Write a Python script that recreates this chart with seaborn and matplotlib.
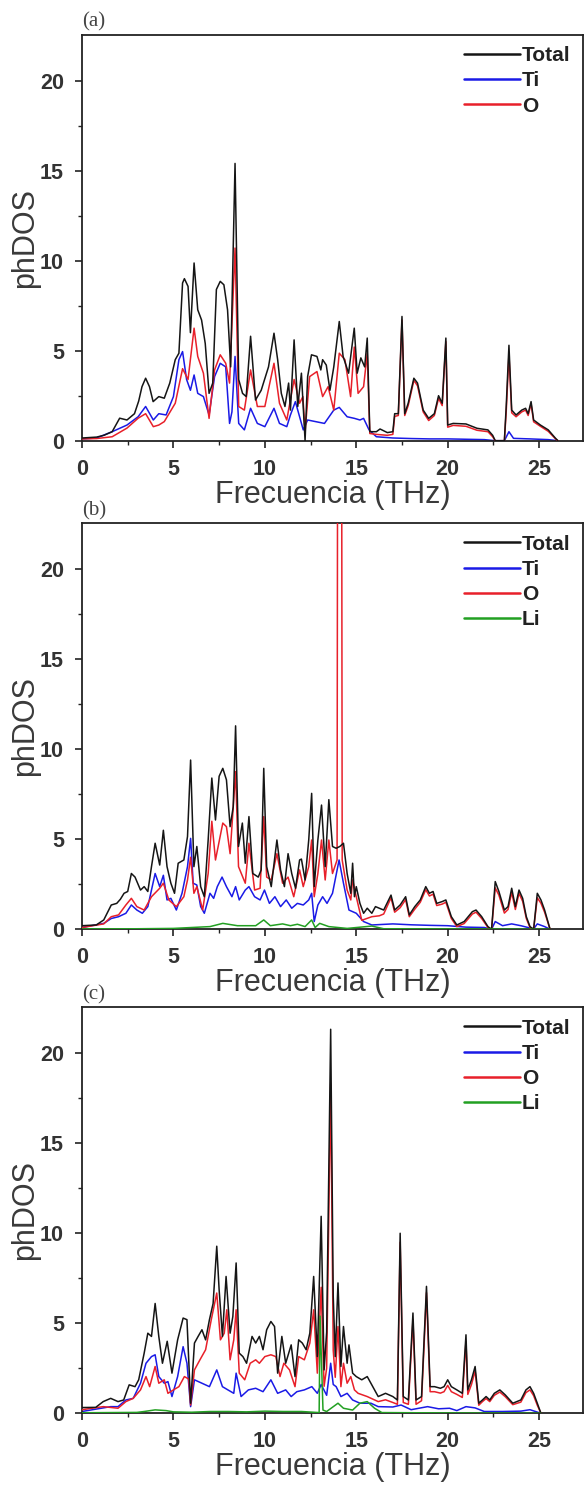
import matplotlib
matplotlib.use("Agg")
import matplotlib.pyplot as plt
import seaborn as sns
import pandas as pd

# ---------------- data (frequency THz, phDOS) ----------------
A_TOT = [(0,0.15),(0.8,0.2),(1.2,0.3),(1.65,0.5),(2.06,1.25),(2.46,1.15),(2.87,1.5),(3.1,2.2),(3.28,3.0),(3.48,3.47),(3.69,3.0),(3.89,2.17),(4.2,2.45),(4.5,2.36),(4.8,3.2),(5.1,4.5),(5.3,4.86),(5.5,8.76),(5.6,9.0),(5.8,8.57),(5.93,6.0),(6.13,9.87),(6.33,7.27),(6.54,6.7),(6.74,5.4),(6.95,2.63),(7.15,3.2),(7.35,8.4),(7.56,8.85),(7.76,8.66),(7.96,7.27),(8.13,4.1),(8.37,15.4),(8.57,3.4),(8.78,2.63),(8.98,2.45),(9.22,5.8),(9.49,2.26),(9.8,2.8),(10.2,4.1),(10.5,5.97),(10.7,4.5),(10.9,2.63),(11.1,1.9),(11.3,3.2),(11.4,1.7),(11.6,5.6),(11.8,1.9),(12.0,3.75),(12.2,0.0),(12.34,3.56),(12.55,4.77),(12.85,4.68),(13.06,3.93),(13.16,4.5),(13.36,4.2),(13.56,2.8),(13.77,4.1),(14.07,6.62),(14.28,4.68),(14.58,3.75),(14.89,6.25),(15.05,3.75),(15.25,4.6),(15.46,4.1),(15.6,5.7),(15.74,0.5),(16.1,0.5),(16.3,0.65),(16.7,0.45),(17.0,0.5),(17.1,1.5),(17.3,1.5),(17.5,6.9),(17.65,1.5),(17.84,2.08),(18.15,3.47),(18.35,3.2),(18.66,1.7),(18.96,1.24),(19.27,1.5),(19.5,2.5),(19.7,2.08),(19.9,5.7),(20.0,0.87),(20.3,0.96),(21.0,0.93),(21.6,0.69),(22.2,0.6),(22.46,0.3),(22.6,0.0),(23.1,0.0),(23.2,1.9),(23.35,5.3),(23.5,1.7),(23.74,1.43),(24.05,1.7),(24.26,1.8),(24.4,1.5),(24.56,2.17),(24.7,1.15),(25.07,0.87),(25.5,0.6),(25.9,0.13),(26.03,0.0)]
A_TI = [(0,0.1),(0.8,0.15),(1.65,0.5),(2.46,0.87),(3.07,1.33),(3.48,1.9),(3.9,1.15),(4.2,1.5),(4.6,1.43),(5.0,2.45),(5.3,4.5),(5.5,4.95),(5.72,3.4),(5.93,2.8),(6.13,3.65),(6.33,2.63),(6.64,2.45),(6.95,1.43),(7.25,3.56),(7.56,4.3),(7.86,4.1),(8.07,0.96),(8.2,1.6),(8.37,4.68),(8.57,0.96),(8.88,0.6),(9.22,1.8),(9.59,0.96),(10.0,0.78),(10.5,1.8),(10.8,0.96),(11.2,0.78),(11.4,1.43),(11.67,2.17),(11.9,1.33),(12.1,0.6),(12.34,1.15),(13.26,0.96),(13.77,1.7),(14.07,1.85),(14.5,1.33),(14.9,1.24),(15.2,1.15),(15.4,1.24),(15.7,0.6),(16.1,0.22),(17.0,0.15),(18.0,0.12),(19.0,0.1),(20.0,0.1),(21.0,0.08),(22.0,0.06),(22.6,0.0),(23.1,0.0),(23.35,0.5),(23.6,0.13),(24.5,0.1),(25.5,0.06),(26.0,0.0)]
A_O = [(0,0.1),(0.8,0.12),(1.65,0.22),(2.46,0.7),(3.07,1.25),(3.48,1.5),(3.9,0.78),(4.2,0.87),(4.5,1.06),(5.1,2.08),(5.5,4.0),(5.8,3.4),(6.13,6.25),(6.33,4.68),(6.64,3.75),(6.95,1.24),(7.25,3.93),(7.56,4.77),(7.86,4.3),(8.07,3.2),(8.37,10.7),(8.57,1.9),(8.88,1.7),(9.22,3.93),(9.59,1.9),(10.0,1.9),(10.5,4.3),(10.8,2.08),(11.2,1.15),(11.6,3.4),(11.9,2.08),(12.08,2.45),(12.2,0.5),(12.45,3.56),(12.85,3.84),(13.16,2.45),(13.46,3.0),(13.77,1.7),(14.07,4.86),(14.38,4.5),(14.69,2.45),(14.89,5.2),(15.1,2.63),(15.4,3.0),(15.6,4.86),(15.74,0.4),(16.1,0.35),(16.7,0.3),(17.0,0.35),(17.1,1.35),(17.3,1.4),(17.5,6.7),(17.65,1.4),(17.84,1.95),(18.15,3.35),(18.35,3.05),(18.66,1.6),(18.96,1.12),(19.27,1.4),(19.5,2.35),(19.7,1.95),(19.9,5.5),(20.0,0.75),(20.3,0.85),(21.0,0.8),(21.6,0.58),(22.2,0.5),(22.46,0.22),(22.6,0.0),(23.1,0.0),(23.2,1.6),(23.35,4.8),(23.5,1.55),(23.74,1.33),(24.05,1.6),(24.26,1.7),(24.4,1.4),(24.56,2.05),(24.7,1.05),(25.07,0.8),(25.5,0.52),(25.9,0.1),(26.03,0.0)]

B_TOT = [(0,0.2),(0.78,0.24),(1.19,0.52),(1.6,1.35),(1.9,1.44),(2.1,1.67),(2.3,2.0),(2.5,2.1),(2.7,3.1),(2.9,2.9),(3.2,2.18),(3.4,2.37),(3.6,2.1),(3.8,3.48),(4.0,4.78),(4.25,3.57),(4.45,5.5),(4.65,3.48),(4.86,2.56),(5.06,2.0),(5.26,3.67),(5.57,3.85),(5.77,5.15),(5.94,9.4),(6.12,3.48),(6.28,4.6),(6.49,2.37),(6.69,1.81),(6.9,4.96),(7.1,8.4),(7.3,6.07),(7.5,8.5),(7.7,8.94),(7.9,8.3),(8.1,5.7),(8.27,6.8),(8.4,11.3),(8.56,4.6),(8.77,5.9),(8.93,3.67),(9.13,6.26),(9.34,3.1),(9.64,2.9),(9.8,3.3),(9.94,8.94),(10.1,3.48),(10.35,2.37),(10.66,4.96),(10.86,3.3),(11.07,2.37),(11.27,4.2),(11.47,3.1),(11.68,2.28),(11.9,3.85),(12.0,3.9),(12.2,2.74),(12.4,4.96),(12.56,7.55),(12.7,2.37),(12.9,4.96),(13.1,6.9),(13.3,3.48),(13.5,7.2),(13.7,4.6),(13.9,4.5),(14.1,4.6),(14.3,4.78),(14.5,3.1),(14.7,2.0),(14.8,3.67),(14.9,1.81),(15.0,2.37),(15.2,1.44),(15.4,0.89),(15.6,1.17),(15.85,0.89),(16.05,1.26),(16.26,1.17),(16.5,1.07),(16.9,1.9),(17.1,1.07),(17.4,1.35),(17.7,1.81),(17.9,0.8),(18.2,1.26),(18.5,1.63),(18.8,2.37),(19.0,2.0),(19.2,2.1),(19.4,1.44),(19.7,1.54),(19.9,1.63),(20.2,0.7),(20.5,0.24),(20.9,0.43),(21.35,0.98),(21.55,1.07),(21.86,0.7),(22.2,0.15),(22.4,0.0),(22.6,2.65),(22.8,2.1),(23.1,1.07),(23.3,1.26),(23.5,2.28),(23.7,1.26),(23.9,2.18),(24.1,1.72),(24.3,0.7),(24.5,0.15),(24.7,0.0),(24.9,2.0),(25.1,1.63),(25.3,1.07),(25.6,0.0)]
B_TI = [(0,0.1),(1.19,0.33),(1.6,0.6),(2.0,0.7),(2.4,0.89),(2.7,1.35),(3.0,1.07),(3.3,0.89),(3.6,1.26),(4.0,3.1),(4.25,2.37),(4.45,3.0),(4.65,1.63),(4.86,1.72),(5.16,1.07),(5.47,2.0),(5.77,3.48),(5.94,5.05),(6.08,2.56),(6.28,2.46),(6.49,1.26),(6.69,0.89),(7.0,2.0),(7.2,1.72),(7.4,2.37),(7.66,2.9),(7.9,2.37),(8.2,1.81),(8.4,2.37),(8.6,1.63),(8.93,2.18),(9.13,2.37),(9.44,1.81),(9.74,1.63),(9.98,2.18),(10.25,1.44),(10.55,1.81),(10.86,1.26),(11.17,1.63),(11.47,1.17),(11.78,1.44),(12.1,1.35),(12.4,1.63),(12.56,2.0),(12.7,0.43),(12.9,1.35),(13.16,1.81),(13.4,1.44),(13.7,2.0),(14.06,3.85),(14.3,2.56),(14.6,1.07),(15.0,0.89),(15.4,0.43),(15.85,0.24),(17.0,0.3),(18.0,0.25),(19.0,0.22),(20.0,0.2),(21.0,0.12),(22.0,0.1),(22.4,0.0),(22.6,0.43),(23.0,0.2),(23.5,0.3),(24.0,0.2),(24.7,0.02),(24.9,0.3),(25.3,0.15),(25.6,0.0)]
B_O = [(0,0.1),(1.19,0.3),(1.6,0.7),(2.0,0.8),(2.4,1.35),(2.7,1.72),(3.0,1.26),(3.4,1.07),(3.8,1.81),(4.25,2.28),(4.45,2.56),(4.75,1.63),(5.16,1.26),(5.57,1.81),(5.77,2.74),(5.94,4.0),(6.12,2.0),(6.28,2.37),(6.6,1.07),(6.9,3.1),(7.1,6.0),(7.3,3.85),(7.7,5.9),(7.9,5.7),(8.1,4.2),(8.4,8.76),(8.56,3.48),(8.93,2.56),(9.13,4.78),(9.44,2.18),(9.74,2.28),(9.94,6.26),(10.1,2.9),(10.35,2.74),(10.66,4.2),(10.97,2.56),(11.27,2.9),(11.58,1.81),(11.9,3.3),(12.1,2.37),(12.4,3.48),(12.56,4.96),(12.7,1.81),(12.9,3.1),(13.1,4.96),(13.3,2.74),(13.5,4.96),(13.7,3.1),(13.95,3.85),(14.09,120.0),(14.23,3.85),(14.5,2.18),(14.7,1.63),(14.8,2.74),(15.0,1.81),(15.3,0.5),(15.85,0.7),(16.26,0.75),(16.5,0.85),(16.9,1.75),(17.1,0.95),(17.4,1.2),(17.7,1.65),(17.9,0.7),(18.2,1.12),(18.5,1.5),(18.8,2.2),(19.0,1.85),(19.2,1.95),(19.4,1.32),(19.7,1.4),(19.9,1.5),(20.2,0.6),(20.5,0.15),(20.9,0.32),(21.35,0.85),(21.55,0.95),(21.86,0.6),(22.2,0.1),(22.4,0.0),(22.6,2.3),(22.8,1.9),(23.1,0.9),(23.3,1.1),(23.5,2.05),(23.7,1.1),(23.9,2.0),(24.1,1.55),(24.3,0.6),(24.5,0.1),(24.7,0.0),(24.9,1.75),(25.1,1.45),(25.3,0.95),(25.6,0.0)]
B_LI = [(0,0.02),(3,0.03),(5,0.05),(6,0.1),(7.0,0.15),(7.7,0.33),(8.5,0.2),(9.5,0.2),(9.94,0.52),(10.3,0.2),(10.97,0.3),(11.4,0.2),(11.78,0.28),(12.2,0.15),(12.56,0.52),(12.75,0.1),(13.0,0.33),(13.5,0.15),(14.5,0.05),(15.85,0.18),(16.5,0.03),(20,0.02),(25.6,0.0)]

C_TOT = [(0,0.32),(0.75,0.33),(1.16,0.65),(1.57,0.83),(1.97,0.65),(2.28,0.74),(2.58,1.58),(2.9,1.48),(3.1,1.86),(3.4,3.34),(3.6,4.45),(3.8,4.27),(4.0,6.1),(4.2,4.27),(4.4,2.78),(4.66,4.0),(4.92,2.23),(5.23,4.08),(5.53,5.29),(5.74,5.2),(5.94,0.56),(6.15,3.9),(6.35,4.27),(6.56,4.64),(6.76,4.08),(6.97,5.2),(7.17,6.1),(7.37,9.28),(7.5,6.86),(7.68,4.27),(7.88,7.6),(8.1,4.45),(8.25,5.38),(8.43,8.35),(8.6,3.34),(8.8,3.15),(9.0,2.78),(9.3,4.27),(9.5,3.9),(9.7,4.27),(9.9,3.53),(10.1,4.64),(10.33,5.1),(10.53,4.82),(10.7,2.23),(10.93,4.27),(11.14,2.78),(11.44,3.8),(11.65,2.04),(11.85,4.08),(12.05,3.9),(12.26,3.53),(12.46,4.45),(12.67,7.6),(12.87,3.15),(13.08,10.94),(13.24,2.41),(13.38,4.5),(13.6,21.33),(13.74,6.5),(13.85,3.15),(14.0,7.24),(14.16,2.6),(14.3,4.82),(14.5,2.78),(14.6,3.8),(14.8,2.23),(15.0,2.04),(15.3,1.86),(15.6,2.04),(15.8,1.67),(16.2,0.93),(16.6,1.11),(17.0,0.93),(17.25,0.74),(17.4,10.0),(17.57,0.93),(17.85,0.74),(18.1,5.57),(18.27,0.74),(18.57,0.93),(18.84,7.05),(19.04,1.48),(19.28,1.48),(19.6,1.39),(19.8,1.48),(20.0,1.86),(20.2,1.48),(20.5,1.3),(20.8,1.11),(21.0,4.36),(21.1,1.3),(21.3,1.86),(21.5,2.6),(21.7,0.56),(21.9,0.74),(22.1,0.93),(22.3,0.74),(22.55,1.11),(22.85,1.3),(23.15,1.02),(23.56,0.56),(24.0,0.74),(24.28,1.3),(24.5,1.48),(24.7,1.11),(24.9,0.56),(25.1,0.0)]
C_TI = [(0,0.1),(1.57,0.37),(1.97,0.37),(2.4,0.74),(2.8,0.83),(3.2,1.67),(3.5,2.78),(3.8,3.15),(4.0,3.25),(4.2,2.04),(4.5,1.67),(4.7,1.76),(4.92,0.93),(5.23,2.04),(5.53,3.7),(5.74,2.78),(5.94,0.37),(6.15,1.86),(6.56,1.67),(6.97,1.48),(7.37,2.41),(7.68,1.48),(7.98,1.3),(8.3,1.11),(8.43,2.23),(8.7,0.93),(9.1,1.3),(9.5,1.39),(9.9,1.2),(10.33,1.86),(10.7,1.11),(11.14,1.3),(11.44,0.93),(11.75,1.2),(12.16,1.3),(12.57,1.48),(12.87,1.11),(13.08,1.6),(13.38,1.0),(13.6,2.78),(13.74,1.6),(13.9,1.48),(14.16,0.93),(14.5,1.11),(14.8,0.74),(15.2,0.56),(15.8,0.56),(16.2,0.37),(17.0,0.35),(17.45,0.46),(18.0,0.2),(18.9,0.37),(19.5,0.25),(20.1,0.28),(20.5,0.15),(21.0,0.37),(21.5,0.3),(22.0,0.1),(23.0,0.1),(24.0,0.12),(24.5,0.2),(25.1,0.0)]
C_O = [(0,0.2),(1.16,0.37),(1.97,0.28),(2.4,0.65),(2.8,0.83),(3.2,1.3),(3.5,2.04),(3.7,1.48),(4.0,2.6),(4.2,1.67),(4.5,1.86),(4.7,1.11),(5.0,1.3),(5.3,1.48),(5.6,2.04),(5.84,1.9),(5.94,0.46),(6.15,2.41),(6.45,2.97),(6.76,3.53),(7.07,5.2),(7.37,6.68),(7.57,4.08),(7.78,4.45),(7.92,5.75),(8.1,2.97),(8.3,4.08),(8.43,5.75),(8.6,2.23),(8.9,1.86),(9.2,2.78),(9.5,2.97),(9.7,2.78),(10.0,3.15),(10.33,3.25),(10.6,3.15),(10.83,2.04),(11.04,2.78),(11.35,2.41),(11.65,1.48),(11.85,3.15),(12.16,2.97),(12.46,3.9),(12.67,5.75),(12.87,2.23),(13.08,7.0),(13.24,1.5),(13.38,2.5),(13.6,18.3),(13.74,3.5),(13.85,2.0),(14.0,4.82),(14.16,1.48),(14.3,2.78),(14.5,1.67),(14.7,2.04),(14.9,1.3),(15.1,1.11),(15.6,0.93),(16.2,0.65),(16.6,0.75),(17.0,0.6),(17.25,0.5),(17.4,9.5),(17.57,0.6),(17.85,0.5),(18.1,5.2),(18.27,0.5),(18.57,0.7),(18.84,6.7),(19.04,1.2),(19.28,1.2),(19.6,1.12),(19.8,1.2),(20.0,1.55),(20.2,1.2),(20.5,1.05),(20.8,0.88),(21.0,4.0),(21.1,1.05),(21.3,1.6),(21.5,2.35),(21.7,0.45),(21.9,0.65),(22.1,0.82),(22.3,0.65),(22.55,1.0),(22.85,1.18),(23.15,0.92),(23.56,0.48),(24.0,0.62),(24.28,1.15),(24.5,1.3),(24.7,0.98),(24.9,0.45),(25.1,0.0)]
C_LI = [(0,0.03),(3.0,0.05),(3.4,0.1),(4.0,0.19),(4.6,0.15),(5.0,0.08),(6.0,0.06),(7.0,0.1),(8.0,0.1),(9.0,0.08),(10.0,0.12),(11.0,0.1),(12.0,0.1),(12.97,0.04),(13.02,5.4),(13.18,0.18),(13.38,0.1),(14.0,0.56),(14.3,0.28),(14.8,0.18),(15.2,0.56),(15.6,0.65),(16.0,0.28),(16.4,0.04),(20,0.02),(25.1,0.0)]

PANELS = [
    ("(a)", [("Total", A_TOT), ("Ti", A_TI), ("O", A_O)]),
    ("(b)", [("Total", B_TOT), ("Ti", B_TI), ("O", B_O), ("Li", B_LI)]),
    ("(c)", [("Total", C_TOT), ("Ti", C_TI), ("O", C_O), ("Li", C_LI)]),
]
Y_TICKS = [0, 5, 10, 15, 20]
X_TICKS = [0, 5, 10, 15, 20, 25]
X_LABEL = "Frecuencia (THz)"
Y_LABEL = "phDOS"

COLORS = {"Total": "#151515", "Ti": "#1a1ae6", "O": "#e8202a", "Li": "#22a022"}
ZORD = {"Total": 4, "Ti": 2, "O": 3, "Li": 5}

# ---------------- style ----------------
sns.set_theme(style="ticks")
plt.rcParams["font.family"] = ["Liberation Sans", "DejaVu Sans"]
plt.rcParams["axes.linewidth"] = 1.3

W, H = 585, 1486
fig = plt.figure(figsize=(W / 100, H / 100), dpi=100)

ax_left = 82 / W
ax_w = 501 / W
bottoms_px = [440.7, 929.3, 1413.3]
ax_h_px = 406

for (tag, series), bpx in zip(PANELS, bottoms_px):
    ax = fig.add_axes([ax_left, 1 - bpx / H, ax_w, ax_h_px / H])
    for name, pts in series:
        df = pd.DataFrame(pts, columns=["f", "dos"])
        sns.lineplot(data=df, x="f", y="dos", ax=ax, color=COLORS[name],
                     lw=1.1, estimator=None, sort=False, label=name,
                     zorder=ZORD[name])
    ax.set_xlim(0, 27.4)
    ax.set_ylim(0, 22.55)
    ax.set_xticks(X_TICKS)
    ax.set_yticks(Y_TICKS)
    ax.set_xticks([2.5, 7.5, 12.5, 17.5, 22.5], minor=True)
    ax.set_yticks([2.5, 7.5, 12.5, 17.5], minor=True)
    ax.tick_params(axis="both", which="major", direction="out", length=5,
                   width=1.2, color="#222222", pad=8, labelsize=15.5,
                   labelcolor="#333333")
    ax.tick_params(axis="both", which="minor", direction="out", length=3,
                   width=1.0, color="#222222")
    for lbl in ax.get_xticklabels() + ax.get_yticklabels():
        lbl.set_fontweight("bold")
    for sp in ax.spines.values():
        sp.set_visible(True)
        sp.set_color("#222222")
    ax.set_xlabel(X_LABEL, fontsize=22, color="#3a3a3a", labelpad=0)
    ax.set_ylabel(Y_LABEL, fontsize=22, color="#3a3a3a", labelpad=0)
    ax.text(0.0, 1.008, tag, transform=ax.transAxes, ha="left", va="bottom",
            fontsize=15, color="#444444",
            family=["Liberation Serif", "DejaVu Serif"])
    leg = ax.legend(loc="upper right", bbox_to_anchor=(0.975, 0.972),
                    frameon=False, prop={"size": 15, "weight": "bold"},
                    handlelength=2.7, handletextpad=0.1, labelspacing=0.3,
                    borderpad=0, borderaxespad=0)
    for t in leg.get_texts():
        t.set_color("#222222")
    for h in leg.get_lines():
        h.set_linewidth(1.8)

fig.savefig("out.png", dpi=100, facecolor="white")
